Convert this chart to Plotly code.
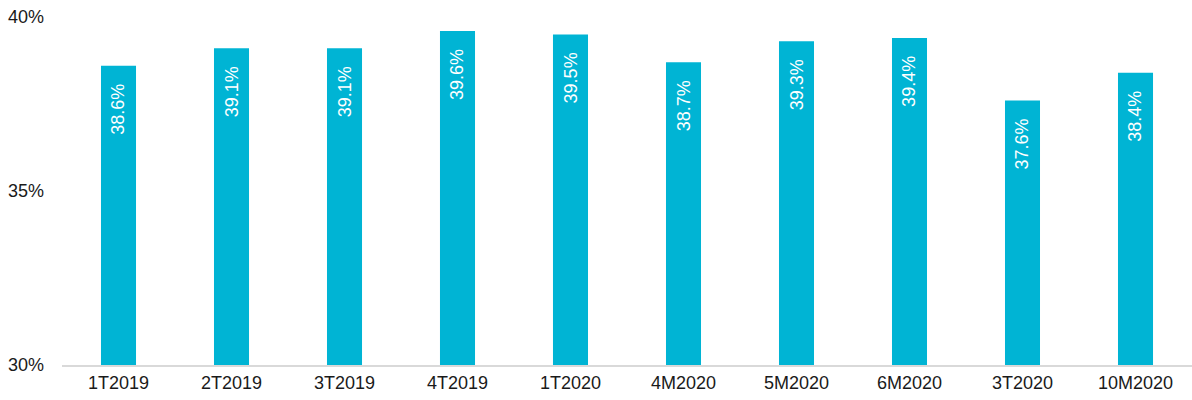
import plotly.graph_objects as go

categories = ["1T2019", "2T2019", "3T2019", "4T2019", "1T2020",
              "4M2020", "5M2020", "6M2020", "3T2020", "10M2020"]
values = [38.6, 39.1, 39.1, 39.6, 39.5, 38.7, 39.3, 39.4, 37.6, 38.4]
y_ticks = [30, 35, 40]
y_tick_labels = ["30%", "35%", "40%"]

bar_color = "#00B4D4"
font_family = "Liberation Sans, Arial, sans-serif"

fig = go.Figure(
    go.Bar(
        x=categories,
        y=values,
        base=0,
        marker=dict(color=bar_color, line=dict(width=0)),
        hoverinfo="skip",
    )
)

# value labels, rotated and tucked just under each bar top
for cat, val in zip(categories, values):
    fig.add_annotation(
        x=cat, y=val, xref="x", yref="y",
        text=f"{val:.1f}%",
        textangle=-90,
        showarrow=False,
        yanchor="top",
        xanchor="center",
        yshift=-16,
        font=dict(family=font_family, size=18, color="white"),
    )

fig.update_layout(
    width=1192, height=400,
    margin=dict(l=62, r=0, t=17, b=35),
    paper_bgcolor="white",
    plot_bgcolor="white",
    bargap=0.69,
    showlegend=False,
    font=dict(family=font_family, size=18, color="#1a1a1a"),
)
fig.update_xaxes(
    showgrid=False,
    showline=True, linecolor="#D9D9D9", linewidth=2,
    ticks="", tickfont=dict(size=18),
)
fig.update_yaxes(
    range=[30, 40],
    tickvals=y_ticks, ticktext=y_tick_labels,
    showgrid=False, zeroline=False, showline=False,
    ticks="", ticklabelstandoff=17,
    tickfont=dict(size=18),
)

fig.write_html("out.html")
